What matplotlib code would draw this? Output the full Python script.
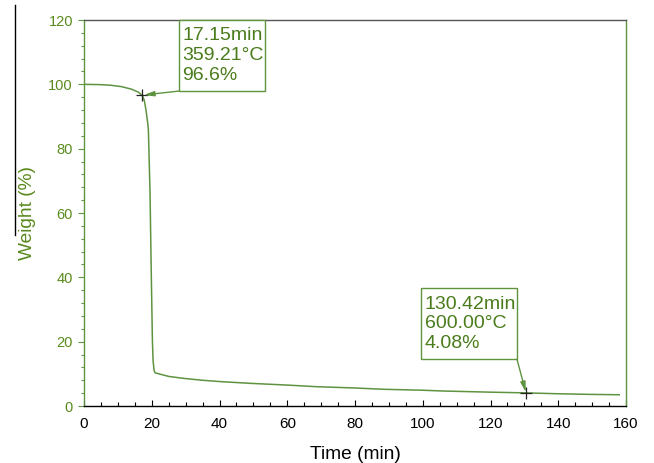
import matplotlib
matplotlib.use("Agg")
import matplotlib.pyplot as plt
from matplotlib.ticker import MultipleLocator
from matplotlib.lines import Line2D
from matplotlib.patches import Rectangle

plt.rcParams['font.family'] = ['Liberation Sans', 'DejaVu Sans']

# Data
time_min = [0, 5, 8, 11, 14, 16, 17.15, 17.8, 18.3, 18.8, 19.0, 19.5, 19.8, 20.2, 20.4, 20.7,
            21, 25, 29.3, 35, 40, 49, 60, 68.7, 80, 88.4, 100, 106, 120, 130.42,
            140, 150, 158]
weight_pct = [100, 99.9, 99.7, 99.3, 98.5, 97.6, 96.6, 95.0, 92.0, 88.0, 86.0, 66.0, 45.0, 20.0,
              14.0, 11.0, 10.3, 9.2, 8.6, 8.0, 7.6, 7.05, 6.5, 6.0, 5.6, 5.2, 4.9, 4.66, 4.3, 4.08,
              3.8, 3.6, 3.5]

marker_t = [17.15, 130.42]
marker_w = [96.6, 4.08]
marker_labels = ["17.15min\n359.21°C\n96.6%", "130.42min\n600.00°C\n4.08%"]

x_ticks = [0, 20, 40, 60, 80, 100, 120, 140, 160]
y_ticks = [0, 20, 40, 60, 80, 100, 120]

line_c = '#5e9440'
text_c = '#4a7c1c'
ytick_c = '#5a8a1e'

fig = plt.figure(figsize=(6.54, 4.63), dpi=100)
ax = fig.add_axes([84/654, 1-406/463, (626-84)/654, (406-20)/463])

ax.plot(time_min, weight_pct, color=line_c, lw=1.1)
ax.plot(marker_t, marker_w, linestyle='none', marker='+', color='#222222', ms=8, mew=0.9)

ax.set_xlim(0, 160)
ax.set_ylim(0, 120)
ax.set_xticks(x_ticks)
ax.set_yticks(y_ticks)
ax.xaxis.set_minor_locator(MultipleLocator(5))
ax.yaxis.set_minor_locator(MultipleLocator(4))

ax.tick_params(axis='x', which='major', direction='in', length=4, width=0.8, color='black',
               labelsize=11, labelcolor='black', pad=8)
ax.tick_params(axis='x', which='minor', direction='in', length=3, width=0.8, color='black')
ax.tick_params(axis='y', which='major', direction='out', length=4, width=0.8, color=line_c,
               labelsize=10.5, labelcolor=ytick_c, pad=4)
ax.tick_params(axis='y', which='minor', direction='out', length=2.5, width=0.8, color=line_c)

ax.spines['left'].set_color(line_c)
ax.spines['right'].set_color(line_c)
ax.spines['bottom'].set_color('black')
ax.spines['top'].set_color('#555555')
for s in ax.spines.values():
    s.set_linewidth(1.0)

ax.set_xlabel('Time (min)', fontsize=13.8, color='black', labelpad=11)
ax.set_ylabel('Weight (%)', fontsize=13.8, color=ytick_c, labelpad=9)

# annotation boxes (positions in data units)
boxes = [(28.0, 97.9, 25.4, 22.1), (99.5, 14.6, 28.3, 22.1)]
text_pos = [(29.1, 117.7), (100.6, 34.3)]
arrow_from = [(28.0, 97.9), (127.8, 14.6)]
arrow_to = [(marker_t[0] + 0.5, marker_w[0] + 0.1), (marker_t[1], marker_w[1] + 0.2)]

for (bx, by, bw, bh), (tx, ty), lab, a0, a1 in zip(boxes, text_pos, marker_labels, arrow_from, arrow_to):
    ax.add_patch(Rectangle((bx, by), bw, bh, fc='white', ec=line_c, lw=1.0, zorder=3,
                           clip_on=False))
    ax.text(tx, ty, lab, fontsize=14, color=text_c, va='top', ha='left',
            linespacing=1.2, zorder=4)
    ax.annotate('', xy=a1, xytext=a0,
                arrowprops=dict(arrowstyle='-|>,head_length=0.6,head_width=0.15', color=line_c,
                                lw=1.0, shrinkA=0, shrinkB=0), zorder=4)

# stray vertical line at left of the figure
fig.add_artist(Line2D([15/654, 15/654], [1-5/463, 1-235/463], color='black', lw=1.0))

fig.savefig('out.png', dpi=100)
